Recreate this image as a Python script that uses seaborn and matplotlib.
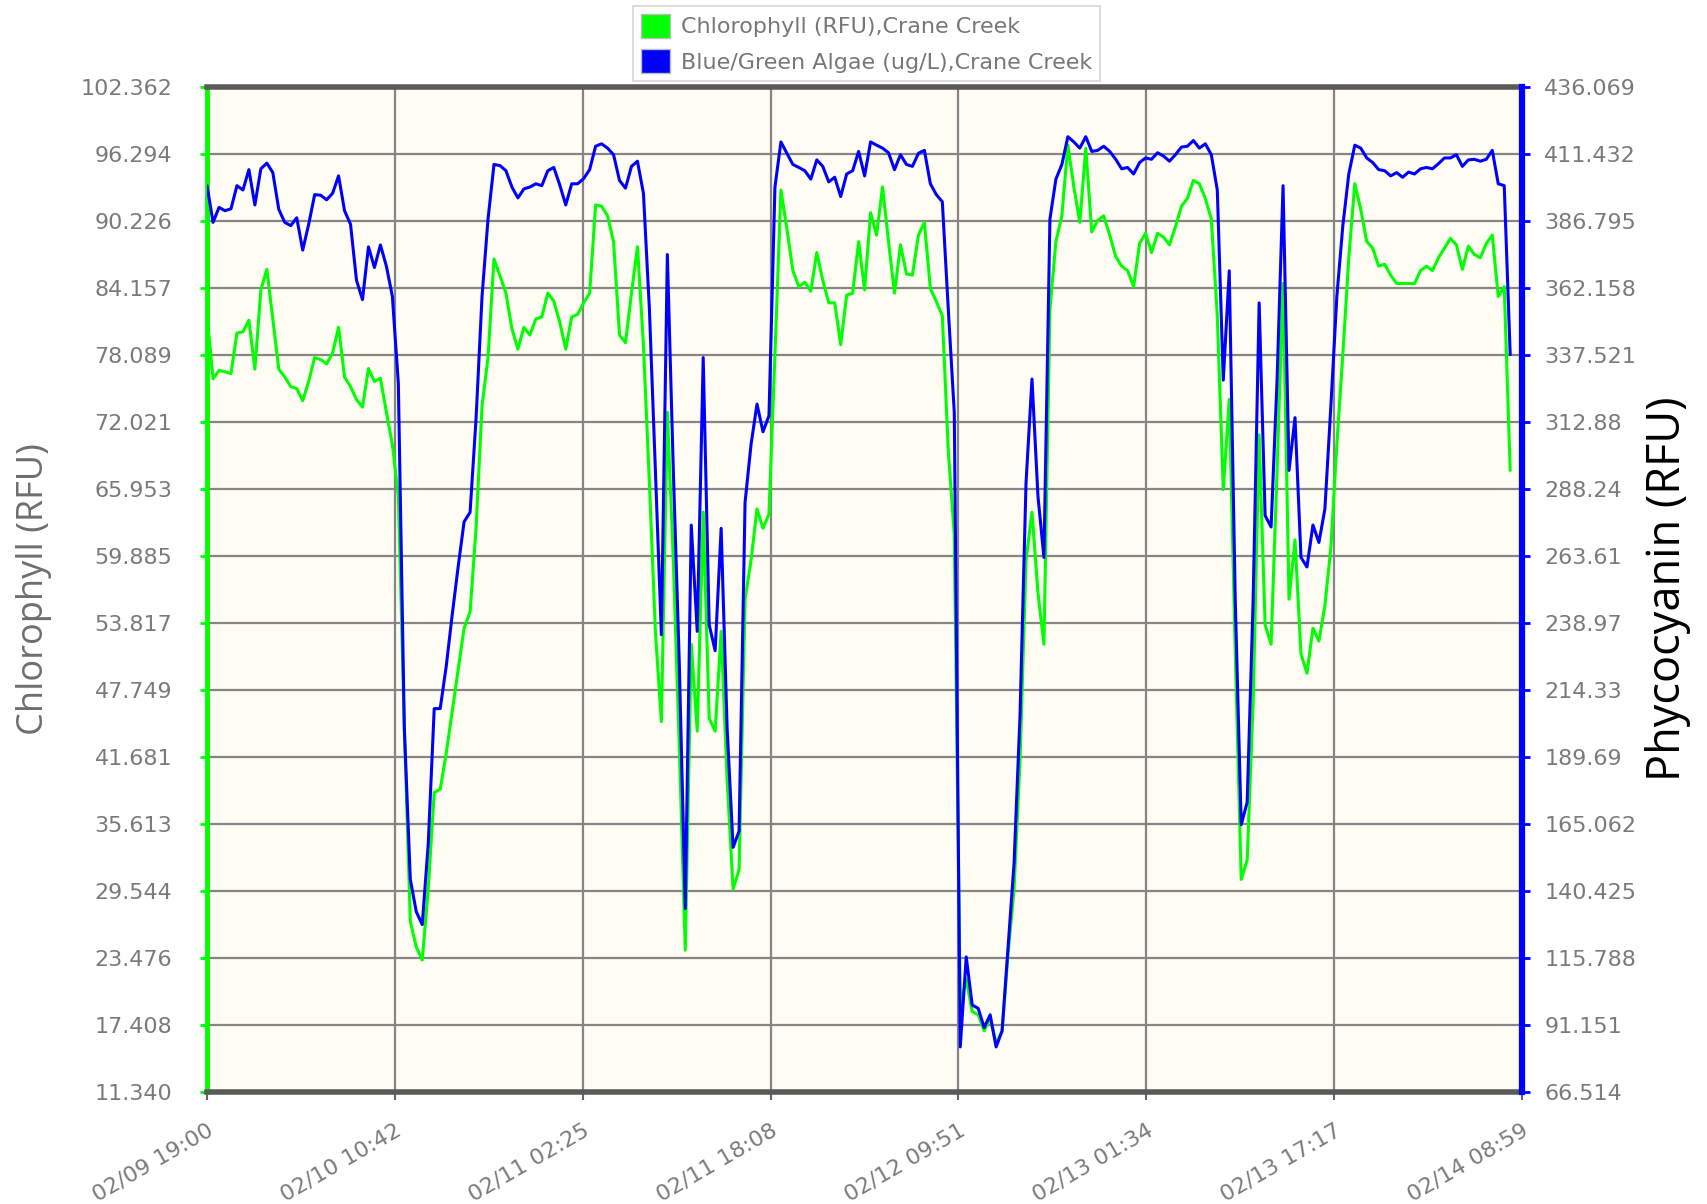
import numpy as np
import pandas as pd
import matplotlib
matplotlib.use("Agg")
import matplotlib.pyplot as plt
import matplotlib.dates as mdates
from matplotlib.patches import Patch
import seaborn as sns

# ---------------- data (30-minute samples) ----------------
start_time = "2024-02-09 19:00"
end_time = "2024-02-14 08:59"

chlorophyll = [
    81.65, 75.93, 76.69, 76.58, 76.40, 80.08, 80.19, 81.24, 76.81, 83.99,
    85.85, 81.36, 76.81, 76.11, 75.23, 75.06, 73.95, 75.70, 77.86, 77.68,
    77.28, 78.27, 80.60, 76.11, 75.23, 74.07, 73.37, 76.87, 75.70, 75.99,
    72.90, 69.98, 65.31, 44.31, 26.80, 24.47, 23.30, 29.72, 38.47, 38.76,
    41.97, 45.77, 49.56, 53.35, 54.81, 62.40, 73.48, 77.86, 86.79, 85.27,
    83.69, 80.48, 78.62, 80.60, 79.90, 81.36, 81.54, 83.69, 82.99, 81.07,
    78.62, 81.54, 81.77, 82.82, 83.69, 91.69, 91.57, 90.70, 88.36, 79.90,
    79.20, 83.69, 87.90, 79.00, 66.48, 53.06, 44.89, 72.90, 59.48, 42.56,
    24.18, 51.89, 44.02, 63.86, 45.18, 44.02, 53.06, 39.64, 29.72, 31.47,
    55.98, 59.48, 64.15, 62.40, 63.68, 78.15, 93.03, 89.53, 85.74, 84.28,
    84.69, 83.87, 87.37, 84.86, 82.82, 82.82, 79.03, 83.52, 83.69, 88.36,
    83.99, 90.99, 88.95, 93.32, 88.36, 83.69, 88.07, 85.44, 85.33, 88.95,
    90.11, 84.10, 82.94, 81.65, 69.40, 61.81, 19.22, 21.55, 18.63, 18.34,
    16.88, 18.05, 15.72, 16.88, 23.89, 29.72, 41.39, 59.48, 63.86, 56.56,
    51.89, 82.24, 88.36, 90.70, 97.11, 93.32, 90.11, 96.82, 89.24, 90.29,
    90.70, 88.95, 87.02, 86.14, 85.74, 84.28, 88.19, 89.12, 87.37, 89.12,
    88.77, 88.07, 89.70, 91.57, 92.27, 93.91, 93.61, 92.27, 90.40, 81.65,
    65.90, 74.07, 51.31, 30.60, 32.35, 46.64, 70.86, 53.65, 51.89, 67.65,
    84.57, 55.98, 61.35, 51.02, 49.27, 53.35, 52.19, 55.39, 60.65, 69.98,
    78.15, 86.90, 93.61, 91.28, 88.36, 87.78, 86.14, 86.32, 85.33, 84.57,
    84.57, 84.57, 84.57, 85.74, 86.14, 85.74, 86.90, 87.78, 88.65, 88.07,
    85.85, 87.95, 87.20, 86.90, 88.19, 88.95, 83.40, 84.28, 67.65,
]

blue_green_algae = [
    399.8, 386.3, 391.8, 390.6, 391.3, 399.8, 398.2, 405.7, 392.7, 406.0,
    408.1, 404.6, 391.1, 386.3, 385.1, 388.0, 376.1, 385.6, 396.5, 396.3,
    394.6, 397.0, 403.4, 390.6, 385.6, 365.0, 357.9, 377.3, 369.7, 378.0,
    370.2, 359.1, 327.1, 200.3, 144.7, 132.8, 128.1, 157.7, 207.5, 207.5,
    222.9, 241.8, 259.6, 276.2, 279.7, 314.1, 359.1, 387.5, 407.6, 407.2,
    405.3, 399.3, 395.3, 398.6, 399.3, 400.5, 399.8, 405.3, 406.5, 400.1,
    392.7, 400.5, 400.5, 402.4, 405.7, 414.3, 415.2, 413.6, 411.2, 401.7,
    398.9, 406.9, 408.8, 397.0, 354.3, 295.1, 234.7, 374.5, 295.1, 224.0,
    134.0, 275.0, 235.9, 336.6, 238.3, 228.8, 273.8, 200.3, 156.5, 162.4,
    283.3, 304.6, 319.5, 309.3, 315.2, 399.3, 415.9, 411.7, 407.6, 406.5,
    405.3, 402.2, 409.3, 406.9, 401.2, 402.9, 395.8, 404.1, 405.3, 412.4,
    403.4, 415.9, 414.7, 413.6, 411.9, 405.7, 411.2, 407.6, 406.9, 411.7,
    412.8, 400.5, 396.5, 393.9, 354.3, 316.4, 83.1, 116.2, 98.5, 97.3,
    90.2, 94.9, 83.1, 89.0, 119.8, 150.6, 205.1, 290.4, 328.7, 285.6,
    263.1, 387.5, 402.2, 407.6, 417.8, 415.9, 413.6, 417.8, 412.4, 412.8,
    414.3, 412.4, 409.5, 406.0, 406.5, 404.1, 408.3, 410.0, 409.5, 411.9,
    410.7, 408.8, 411.2, 414.0, 414.3, 416.4, 413.6, 415.2, 411.2, 398.2,
    328.3, 368.5, 247.7, 164.8, 173.1, 247.7, 356.7, 278.5, 274.3, 328.3,
    399.8, 295.1, 314.5, 263.1, 259.6, 275.0, 268.6, 280.9, 318.8, 359.1,
    385.1, 404.1, 414.7, 413.6, 410.0, 408.3, 405.7, 405.3, 403.4, 404.6,
    402.9, 404.8, 404.1, 406.0, 406.5, 406.0, 407.9, 410.0, 410.0, 411.2,
    406.9, 409.3, 409.5, 408.8, 409.5, 412.8, 400.5, 399.8, 337.7,
]

x_tick_labels = ["02/09 19:00", "02/10 10:42", "02/11 02:25", "02/11 18:08",
                 "02/12 09:51", "02/13 01:34", "02/13 17:17", "02/14 08:59"]
left_tick_labels = ["11.340", "17.408", "23.476", "29.544", "35.613", "41.681",
                    "47.749", "53.817", "59.885", "65.953", "72.021", "78.089",
                    "84.157", "90.226", "96.294", "102.362"]
right_tick_labels = ["66.514", "91.151", "115.788", "140.425", "165.062", "189.69",
                     "214.33", "238.97", "263.61", "288.24", "312.88", "337.521",
                     "362.158", "386.795", "411.432", "436.069"]
left_range = (11.340, 102.362)
right_range = (66.514, 436.069)
legend_labels = ["Chlorophyll (RFU),Crane Creek", "Blue/Green Algae (ug/L),Crane Creek"]

# ---------------- figure ----------------
times = pd.date_range(start_time, periods=len(chlorophyll), freq="30min")
df = pd.DataFrame({"time": times, "chl": chlorophyll, "bga": blue_green_algae})

sns.set_style("white")
plt.rcParams["font.family"] = ["DejaVu Sans"]

GREEN = "#00ff00"
BLUE = "#0000ff"
TICK_GREY = "#7a7a7a"

fig = plt.figure(figsize=(17.07, 12.04), dpi=100)
ax = fig.add_axes([0.1213, 0.0930, 0.7703, 0.8347])
ax.set_facecolor("#fffcf3")
ax2 = ax.twinx()
ax2.patch.set_visible(False)

sns.lineplot(data=df, x="time", y="chl", ax=ax, color=GREEN, linewidth=2.2, legend=False)
sns.lineplot(data=df, x="time", y="bga", ax=ax2, color=BLUE, linewidth=2.2, legend=False)

t0, t1 = pd.Timestamp(start_time), pd.Timestamp(end_time)
ax.set_xlim(t0, t1)
xt = mdates.date2num(pd.date_range(t0, t1, periods=len(x_tick_labels)).to_pydatetime())
ax.set_xticks(xt)
ax.set_xticklabels(x_tick_labels, rotation=30, ha="right", va="top",
                   rotation_mode="anchor", color=TICK_GREY, fontsize=16)

ax.set_ylim(*left_range)
ax.set_yticks(np.linspace(left_range[0], left_range[1], len(left_tick_labels)))
ax.set_yticklabels(left_tick_labels, color=TICK_GREY, fontsize=16)
ax2.set_ylim(*right_range)
ax2.set_yticks(np.linspace(right_range[0], right_range[1], len(right_tick_labels)))
ax2.set_yticklabels(right_tick_labels, color=TICK_GREY, fontsize=16)

ax.set_xlabel("")
ax.set_ylabel("")
ax2.set_ylabel("")

ax.grid(True, color="#858585", linewidth=1.6)
ax2.grid(False)
ax.set_axisbelow(True)

ax.tick_params(axis="y", which="both", left=True, color=GREEN, width=2, length=5, pad=20)
ax.tick_params(axis="x", which="both", bottom=True, color="#666666", width=1.5, length=6, pad=14)
ax2.tick_params(axis="y", which="both", right=True, color=BLUE, width=2, length=6, pad=10)

for s in ["top", "bottom"]:
    ax.spines[s].set_color("#5a5a5a")
    ax.spines[s].set_linewidth(4)
    ax2.spines[s].set_visible(False)
ax.spines["left"].set_color(GREEN)
ax.spines["left"].set_linewidth(3.5)
ax.spines["right"].set_visible(False)
ax2.spines["left"].set_visible(False)
ax2.spines["right"].set_color(BLUE)
ax2.spines["right"].set_linewidth(4.5)

fig.text(0.020, 0.511, "Chlorophyll (RFU)", rotation=90, ha="center", va="center",
         fontsize=26, color="#6e6e6e", family=["Open Sans", "DejaVu Sans"])
fig.text(0.977, 0.511, "Phycocyanin (RFU)", rotation=90, ha="center", va="center",
         fontsize=32.5, color="black", family=["Open Sans", "DejaVu Sans"])

handles = [Patch(facecolor=GREEN, edgecolor="#bbbbbb"), Patch(facecolor=BLUE, edgecolor="#bbbbbb")]
leg = fig.legend(handles, legend_labels, loc="upper center", bbox_to_anchor=(0.5075, 0.995),
                 frameon=True, fancybox=False, edgecolor="#cccccc", fontsize=16,
                 labelcolor="#777777", handlelength=1.3, handleheight=1.3,
                 borderpad=0.35, labelspacing=0.5, handletextpad=0.5, borderaxespad=0)
leg.get_frame().set_linewidth(1.2)

fig.savefig("out.png", dpi=100, facecolor="white")
